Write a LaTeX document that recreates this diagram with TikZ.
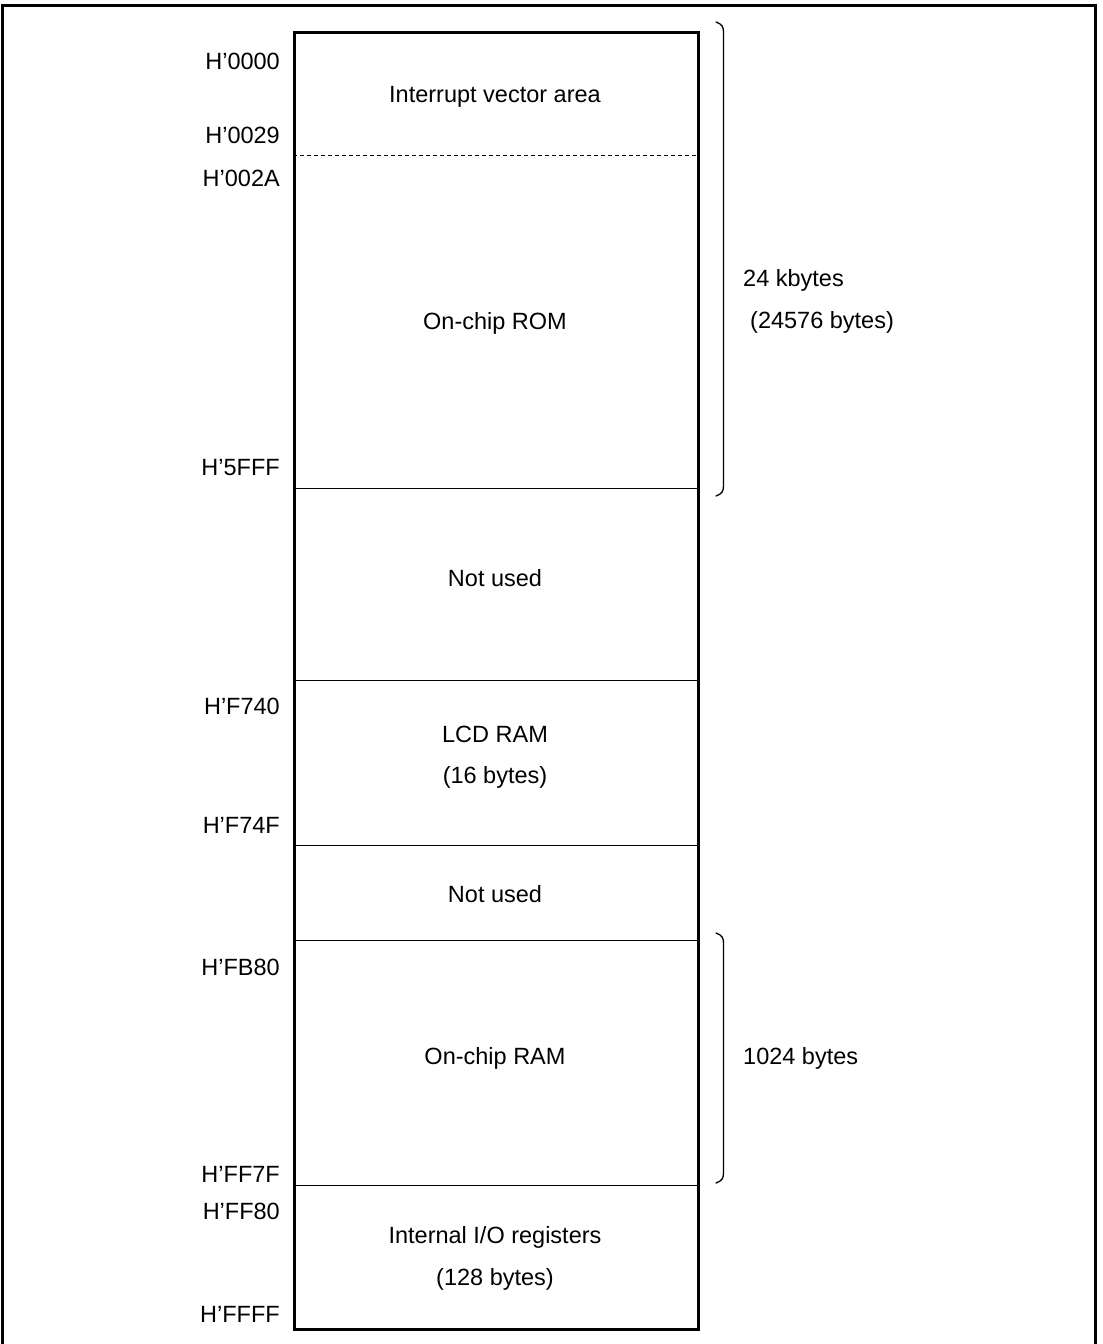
\documentclass[tikz,border=0pt]{standalone}
\usepackage{fontspec}
\setmainfont{Liberation Sans}
\begin{document}
\begin{tikzpicture}[x=1pt,y=-1pt,
  lbl/.style={font=\fontsize{23.5}{28}\selectfont, inner sep=0pt, anchor=base},
  addr/.style={lbl, anchor=base east},
  side/.style={lbl, anchor=base west},
  divider/.style={line width=1pt},
  mapbox/.style={line width=2.6pt},
  bracepath/.style={line width=1.3pt, line cap=round},
  frame/.style={line width=3pt}]
\useasboundingbox (0,0) rectangle (1103,1344);
% outer frame (open at bottom)
\draw[frame] (2,1350) -- (2,5) -- (1095.5,5) -- (1095.5,1350);
% memory map box
\node[mapbox, draw, minimum width=404pt, minimum height=1297pt, inner sep=0pt, anchor=north west] (map) at (293,31) {};
% dividers
\coordinate (d0l) at (293,155); \coordinate (d0r) at (697,155);
\coordinate (d1l) at (293,488); \coordinate (d1r) at (697,488);
\coordinate (d2l) at (293,680); \coordinate (d2r) at (697,680);
\coordinate (d3l) at (293,845); \coordinate (d3r) at (697,845);
\coordinate (d4l) at (293,940); \coordinate (d4r) at (697,940);
\coordinate (d5l) at (293,1185); \coordinate (d5r) at (697,1185);
\draw[divider, dashed, dash pattern=on 4pt off 3pt] (d0l) -- (d0r);
\draw[divider] (d1l) -- (d1r);
\draw[divider] (d2l) -- (d2r);
\draw[divider] (d3l) -- (d3r);
\draw[divider] (d4l) -- (d4r);
\draw[divider] (d5l) -- (d5r);
% region texts
\node[lbl] (ivec) at (495,102) {Interrupt vector area};
\node[lbl] (rom) at (495,329) {On-chip ROM};
\node[lbl] (nu1) at (495,586.5) {Not used};
\node[lbl] (lcd) at (495,742.5) {LCD RAM};
\node[lbl] (lcds) at (495,783) {(16 bytes)};
\node[lbl] (nu2) at (495,902.5) {Not used};
\node[lbl] (ram) at (495,1064) {On-chip RAM};
\node[lbl] (io) at (495,1243) {Internal I/O registers};
\node[lbl] (ios) at (495,1285.5) {(128 bytes)};
% addresses
\node[addr] (a0000) at (280,69.5) {H’0000};
\node[addr] (a0029) at (280,143.3) {H’0029};
\node[addr] (a002A) at (280,186.5) {H’002A};
\node[addr] (a5FFF) at (280,475) {H’5FFF};
\node[addr] (aF740) at (280,714) {H’F740};
\node[addr] (aF74F) at (280,833.5) {H’F74F};
\node[addr] (aFB80) at (280,975.5) {H’FB80};
\node[addr] (aFF7F) at (280,1182.5) {H’FF7F};
\node[addr] (aFF80) at (280,1219) {H’FF80};
\node[addr] (aFFFF) at (280,1322) {H’FFFF};
% braces
\coordinate (b1t) at (716,22); \coordinate (b1b) at (716,496);
\draw[bracepath] (b1t) .. controls (722,24) and (723.5,27) .. (723.5,32) -- (723.5,486) .. controls (723.5,491) and (722,494) .. (b1b);
\coordinate (b2t) at (716,933); \coordinate (b2b) at (716,1183);
\draw[bracepath] (b2t) .. controls (722,935) and (723.5,938) .. (723.5,943) -- (723.5,1173) .. controls (723.5,1178) and (722,1181) .. (b2b);
% size labels
\node[side] (k24) at (743,286) {24 kbytes};
\node[side] (k24b) at (750,328) {(24576 bytes)};
\node[side] (k1) at (743,1064) {1024 bytes};
\end{tikzpicture}
\end{document}
